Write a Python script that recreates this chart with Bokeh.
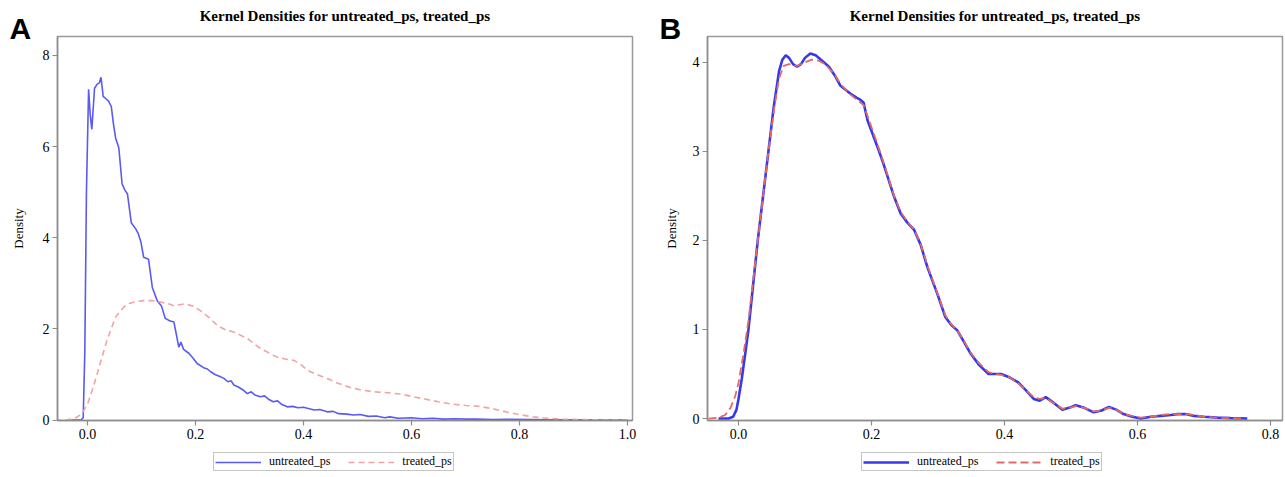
from bokeh.plotting import figure
from bokeh.layouts import row, column
from bokeh.models import Range1d, Legend, LegendItem, FixedTicker, Title
from bokeh.embed import file_html
from bokeh.resources import INLINE

# ---------------- data ----------------
title_text = "Kernel Densities for untreated_ps, treated_ps"
series_names = ["untreated_ps", "treated_ps"]
panel_letters = ["A", "B"]

# Panel A
ua_x = [-0.03, -0.012, -0.008, -0.005, -0.002, 0.002, 0.005, 0.008, 0.013, 0.018, 0.022, 0.025, 0.029,
        0.034, 0.039, 0.044, 0.048, 0.052, 0.058, 0.064, 0.069, 0.074, 0.081, 0.089, 0.094, 0.099, 0.104,
        0.113, 0.12, 0.129, 0.137, 0.144, 0.152, 0.16, 0.165, 0.169, 0.173, 0.178, 0.188, 0.196, 0.203,
        0.215, 0.222, 0.228, 0.236, 0.244, 0.252, 0.26, 0.266, 0.271, 0.28, 0.288, 0.296, 0.303, 0.31,
        0.32, 0.328, 0.336, 0.344, 0.352, 0.36, 0.37, 0.38, 0.39, 0.4, 0.407, 0.42, 0.43, 0.444, 0.455,
        0.465, 0.48, 0.493, 0.505, 0.52, 0.535, 0.55, 0.56, 0.575, 0.6, 0.62, 0.64, 0.66, 0.68, 0.7, 0.72,
        0.75, 0.78, 0.82, 0.86, 0.9, 0.95, 1.0]
ua_y = [0, 0, 0.05, 1.5, 5.0, 7.26, 6.7, 6.38, 7.28, 7.37, 7.4, 7.52, 7.1,
        7.05, 7.0, 6.88, 6.5, 6.19, 5.97, 5.18, 5.05, 4.96, 4.33, 4.2, 4.09, 3.9, 3.57,
        3.53, 2.91, 2.62, 2.5, 2.23, 2.18, 2.15, 1.85, 1.60, 1.71, 1.55, 1.46, 1.35, 1.24,
        1.15, 1.12, 1.06, 1.0, 0.96, 0.92, 0.84, 0.86, 0.77, 0.72, 0.66, 0.58, 0.62, 0.55,
        0.51, 0.53, 0.45, 0.40, 0.42, 0.34, 0.29, 0.3, 0.27, 0.28, 0.26, 0.22, 0.23, 0.18, 0.19,
        0.14, 0.13, 0.11, 0.12, 0.08, 0.09, 0.05, 0.07, 0.04, 0.05, 0.03, 0.04, 0.02, 0.03, 0.02, 0.02,
        0.01, 0.015, 0.01, 0.005, 0.005, 0.0, 0.0]
ta_x = [-0.06, -0.04, -0.031, -0.02, -0.01, 0.0, 0.009, 0.02, 0.036, 0.052, 0.065, 0.074, 0.09, 0.104,
        0.12, 0.135, 0.15, 0.16, 0.17, 0.181, 0.195, 0.209, 0.225, 0.24, 0.255, 0.271, 0.296, 0.32,
        0.351, 0.37, 0.382, 0.395, 0.407, 0.425, 0.444, 0.465, 0.485, 0.506, 0.53, 0.555, 0.58, 0.6,
        0.625, 0.65, 0.675, 0.7, 0.725, 0.75, 0.775, 0.8, 0.825, 0.85, 0.88, 0.92, 0.96, 1.0]
ta_y = [0, 0, 0.02, 0.06, 0.15, 0.35, 0.66, 1.1, 1.75, 2.26, 2.45, 2.55, 2.6, 2.62,
        2.62, 2.59, 2.55, 2.51, 2.53, 2.55, 2.5, 2.40, 2.25, 2.08, 1.98, 1.93, 1.79, 1.57,
        1.38, 1.33, 1.31, 1.22, 1.09, 1.0, 0.91, 0.8, 0.72, 0.66, 0.62, 0.6, 0.57, 0.52,
        0.46, 0.4, 0.35, 0.32, 0.3, 0.25, 0.18, 0.12, 0.07, 0.04, 0.02, 0.01, 0.0, 0.0]

# Panel B
ub_x = [-0.03, -0.015, -0.008, -0.003, 0.0, 0.005, 0.01, 0.015, 0.022, 0.029, 0.037, 0.045, 0.053,
        0.061, 0.066, 0.071, 0.076, 0.082, 0.088, 0.094, 0.1, 0.108, 0.116, 0.124, 0.136, 0.145, 0.153,
        0.168, 0.178, 0.183, 0.188, 0.194, 0.209, 0.218, 0.234, 0.244, 0.254, 0.264, 0.274, 0.284,
        0.299, 0.311, 0.32, 0.329, 0.339, 0.349, 0.362, 0.376, 0.386, 0.395, 0.408, 0.42, 0.432,
        0.444, 0.453, 0.462, 0.475, 0.487, 0.497, 0.507, 0.52, 0.534, 0.546, 0.557, 0.568, 0.579,
        0.592, 0.605, 0.62, 0.635, 0.65, 0.66, 0.672, 0.685, 0.7, 0.72, 0.74, 0.765]
ub_y = [0, 0, 0.02, 0.1, 0.22, 0.45, 0.72, 1.0, 1.5, 2.0, 2.5, 3.0, 3.5,
        3.9, 4.03, 4.08, 4.05, 3.98, 3.95, 3.98, 4.05, 4.10, 4.08, 4.03, 3.95, 3.85, 3.74,
        3.65, 3.6, 3.58, 3.55, 3.35, 3.05, 2.86, 2.49, 2.30, 2.2, 2.12, 1.95, 1.70,
        1.40, 1.14, 1.05, 0.99, 0.86, 0.73, 0.6, 0.50, 0.5, 0.50, 0.46, 0.41, 0.32,
        0.22, 0.2, 0.24, 0.17, 0.10, 0.12, 0.15, 0.12, 0.07, 0.09, 0.13, 0.1, 0.05,
        0.02, 0.0, 0.02, 0.03, 0.04, 0.05, 0.05, 0.03, 0.02, 0.01, 0.005, 0.0]
tb_x = [-0.045, -0.03, -0.02, -0.012, -0.005, 0.0, 0.008, 0.015, 0.022, 0.029, 0.037, 0.045, 0.053,
        0.061, 0.068, 0.076, 0.088, 0.1, 0.11, 0.12, 0.13, 0.145, 0.153, 0.168, 0.178, 0.188, 0.194,
        0.209, 0.218, 0.234, 0.244, 0.254, 0.264, 0.274, 0.284, 0.299, 0.311, 0.32, 0.329, 0.339,
        0.349, 0.362, 0.376, 0.386, 0.395, 0.408, 0.42, 0.432, 0.444, 0.453, 0.462, 0.475, 0.487,
        0.497, 0.507, 0.52, 0.534, 0.546, 0.557, 0.568, 0.579, 0.592, 0.605, 0.62, 0.635, 0.65,
        0.66, 0.672, 0.685, 0.7, 0.72, 0.74, 0.76]
tb_y = [0, 0.01, 0.04, 0.12, 0.25, 0.4, 0.75, 1.1, 1.55, 2.0, 2.5, 3.0, 3.45,
        3.82, 3.96, 3.98, 3.96, 4.0, 4.03, 4.02, 3.98, 3.86, 3.76, 3.64, 3.58, 3.52, 3.4,
        3.08, 2.88, 2.5, 2.32, 2.21, 2.12, 1.96, 1.72, 1.41, 1.16, 1.06, 0.99, 0.87,
        0.74, 0.62, 0.52, 0.5, 0.49, 0.46, 0.4, 0.32, 0.24, 0.22, 0.23, 0.17, 0.11,
        0.12, 0.14, 0.12, 0.08, 0.09, 0.12, 0.1, 0.05, 0.03, 0.01, 0.02, 0.04, 0.05,
        0.05, 0.05, 0.04, 0.02, 0.01, 0.005, 0.0]

xticks_a = [0.0, 0.2, 0.4, 0.6, 0.8, 1.0]
xlabels_a = ["0.0", "0.2", "0.4", "0.6", "0.8", "1.0"]
yticks_a = [0, 2, 4, 6, 8]
ylabels_a = ["0", "2", "4", "6", "8"]
xticks_b = [0.0, 0.2, 0.4, 0.6, 0.8]
xlabels_b = ["0.0", "0.2", "0.4", "0.6", "0.8"]
yticks_b = [0, 1, 2, 3, 4]
ylabels_b = ["0", "1", "2", "3", "4"]

SERIF = "Liberation Serif"
AXIS_GRAY = "#8c8c8c"
H_MAIN = 449
H_LEG = 28


def make_panel(width, bl, br, xr, yr, xt, xl, yt, yl, ylabel_standoff, letter):
    p = figure(width=width, height=H_MAIN, output_backend="svg", toolbar_location=None,
               x_range=Range1d(*xr), y_range=Range1d(*yr),
               min_border_left=bl, min_border_right=br, min_border_top=36, min_border_bottom=29)
    p.title = None
    p.background_fill_color = "white"
    p.border_fill_color = "white"
    p.outline_line_color = "#9a9a9a"
    p.outline_line_width = 1.5
    p.xgrid.visible = False
    p.ygrid.visible = False
    for ax in (p.xaxis[0], p.yaxis[0]):
        ax.axis_line_color = AXIS_GRAY
        ax.axis_line_width = 1.5
        ax.major_tick_line_color = AXIS_GRAY
        ax.major_tick_line_width = 1.2
        ax.major_tick_out = 5
        ax.major_tick_in = 0
        ax.minor_tick_line_color = None
        ax.major_label_text_font = SERIF
        ax.major_label_text_font_size = "14px"
        ax.major_label_text_color = "black"
        ax.major_label_standoff = 3
    p.xaxis.ticker = FixedTicker(ticks=xt)
    p.xaxis.major_label_overrides = dict(zip(xt, xl))
    p.yaxis.ticker = FixedTicker(ticks=yt)
    p.yaxis.major_label_overrides = dict(zip(yt, yl))
    p.yaxis.axis_label = "Density"
    p.yaxis.axis_label_text_font = SERIF
    p.yaxis.axis_label_text_font_style = "normal"
    p.yaxis.axis_label_text_font_size = "13px"
    p.yaxis.axis_label_standoff = ylabel_standoff
    p.yaxis.axis_label_text_color = "black"

    letter_title = Title(text=letter, align="left", offset=-48, vertical_align="bottom", standoff=-16,
                         text_font="Liberation Sans", text_font_style="bold", text_font_size="30px",
                         text_color="black")
    main_title = Title(text=title_text, align="center", vertical_align="bottom", standoff=-12,
                       text_font=SERIF, text_font_style="bold", text_font_size="15px", text_color="black")
    p.add_layout(letter_title, "above")
    p.add_layout(main_title, "above")
    return p


def make_legend_fig(width, series, colors, widths, dashes, left):
    # the legend lives in its own strip; the series are drawn far outside its visible range
    f = figure(width=width, height=H_LEG, output_backend="svg", toolbar_location=None,
               x_axis_location=None, y_axis_location=None,
               x_range=Range1d(10, 11), y_range=Range1d(10, 11),
               min_border_left=0, min_border_right=0, min_border_top=0, min_border_bottom=0)
    f.title = None
    f.outline_line_color = None
    f.xgrid.visible = False
    f.ygrid.visible = False
    rs = [f.line(sx, sy, line_color=c, line_width=w, line_dash=d)
          for (sx, sy), c, w, d in zip(series, colors, widths, dashes)]
    leg = Legend(items=[LegendItem(label=n, renderers=[r]) for n, r in zip(series_names, rs)],
                 location=(left, 6), orientation="horizontal")
    leg.label_text_font = SERIF
    leg.label_text_font_size = "12px"
    leg.label_text_color = "black"
    leg.glyph_width = 46
    leg.glyph_height = 12
    leg.label_height = 12
    leg.label_standoff = 8
    leg.spacing = 18
    leg.padding = 1
    leg.margin = 0
    leg.border_line_color = "#8c8c8c"
    leg.border_line_width = 1
    leg.background_fill_color = "white"
    leg.background_fill_alpha = 1.0
    f.add_layout(leg)
    return f


A_COLORS = ["#5a5af2", "#f0a4a4"]
A_WIDTHS = [1.6, 1.6]
A_DASH = ["solid", "6 4"]
B_COLORS = ["#3838e6", "#e06a6a"]
B_WIDTHS = [2.6, 1.8]
B_DASH = ["solid", "8 4"]

# Panel A
pA = make_panel(650, 57, 18, (-0.0556, 1.0093), (-0.01, 8.416), xticks_a, xlabels_a, yticks_a, ylabels_a,
                14, panel_letters[0])
pA.line(ua_x, ua_y, line_color=A_COLORS[0], line_width=A_WIDTHS[0], line_dash=A_DASH[0])
pA.line(ta_x, ta_y, line_color=A_COLORS[1], line_width=A_WIDTHS[1], line_dash=A_DASH[1])
lA = make_legend_fig(650, [(ua_x, ua_y), (ta_x, ta_y)], A_COLORS, A_WIDTHS, A_DASH, 156)

# Panel B
pB = make_panel(635, 57, 3, (-0.0466, 0.818), (-0.022, 4.29), xticks_b, xlabels_b, yticks_b, ylabels_b,
                11, panel_letters[1])
pB.line(ub_x, ub_y, line_color=B_COLORS[0], line_width=B_WIDTHS[0], line_dash=B_DASH[0])
pB.line(tb_x, tb_y, line_color=B_COLORS[1], line_width=B_WIDTHS[1], line_dash=B_DASH[1])
lB = make_legend_fig(635, [(ub_x, ub_y), (tb_x, tb_y)], B_COLORS, B_WIDTHS, B_DASH, 154)

layout = row(column(pA, lA), column(pB, lB))
open("out.html", "w").write(file_html(layout, INLINE))
